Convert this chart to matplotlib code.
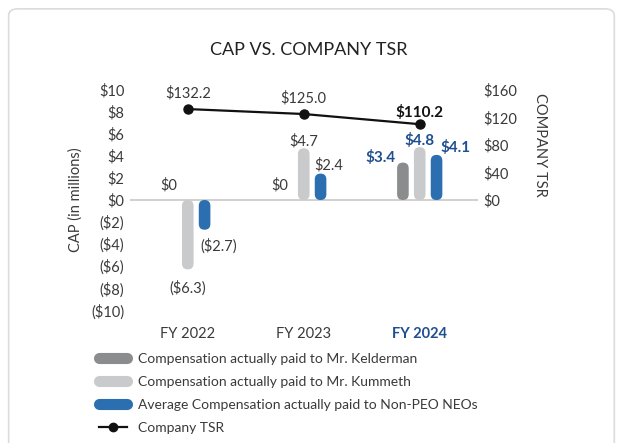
import matplotlib.pyplot as plt
import numpy as np
from matplotlib.patches import FancyBboxPatch
from matplotlib.lines import Line2D

plt.rcParams['font.family'] = ['Lato', 'DejaVu Sans']

years = ["FY 2022", "FY 2023", "FY 2024"]
kelderman = [0.0, 0.0, 3.4]
kummeth = [-6.3, 4.7, 4.8]
neo_avg = [-2.7, 2.4, 4.1]
tsr = [132.2, 125.0, 110.2]

c_kel = "#8b8c8e"
c_kum = "#c9cacc"
c_neo = "#2b6fb0"
c_blue_txt = "#1f4f8f"
c_txt = "#3a3a3a"

fig = plt.figure(figsize=(6.18, 4.43), dpi=100)

# card outline
card = FancyBboxPatch((0.014, -0.05), 0.98, 1.03, boxstyle="round,pad=0,rounding_size=0.015",
                      transform=fig.transFigure, fc="white", ec="#dcdcdc", lw=1.2, zorder=-5)
fig.patches.append(card)

ax = fig.add_axes([0.21, 0.30, 0.563, 0.497])
ax2 = ax.twinx()
ax.set_zorder(ax2.get_zorder() + 1)
ax.patch.set_visible(False)

x = np.arange(len(years))
w = 0.1
off = 0.145

def rounded_bars(xs, vals, color):
    bars = ax.bar(xs, vals, width=w, color=color)
    for b in bars:
        h = b.get_height()
        b.set_visible(False)
        if abs(h) < 1e-9:
            continue
        y0 = min(b.get_y(), b.get_y() + h)
        p = FancyBboxPatch((b.get_x(), y0), b.get_width(), abs(h),
                           boxstyle="round,pad=0,rounding_size=0.05", mutation_aspect=10.5,
                           fc=color, ec="none", zorder=2)
        ax.add_patch(p)

rounded_bars(x - off, kelderman, c_kel)
rounded_bars(x, kummeth, c_kum)
rounded_bars(x + off, neo_avg, c_neo)

ax.axhline(0, color="#c8c8c8", lw=1.2, zorder=1)
ax.set_xlim(-0.5, 2.5)
ax.set_ylim(-10, 10)
ax.set_yticks(np.arange(-10, 11, 2))
ax.set_yticklabels([f"${v}" if v >= 0 else f"(${-v})" for v in range(-10, 11, 2)])
ax.set_xticks(x)
ax.set_xticklabels(years)
ax.tick_params(length=0, labelsize=10.5, colors=c_txt, pad=4)
ax.tick_params(axis="x", pad=12)
ax.get_xticklabels()[2].set_color(c_blue_txt)
ax.get_xticklabels()[2].set_fontweight("bold")
for s in ax.spines.values():
    s.set_visible(False)
ax.set_ylabel("CAP (in millions)", fontsize=10.5, color=c_txt, labelpad=6)

# right axis for TSR
ax2.set_ylim(-160, 160)
ax2.set_yticks([0, 40, 80, 120, 160])
ax2.set_yticklabels([f"${v}" for v in [0, 40, 80, 120, 160]])
ax2.tick_params(length=0, labelsize=10.5, colors=c_txt, pad=4)
for s in ax2.spines.values():
    s.set_visible(False)
ax2.set_ylabel("COMPANY TSR", fontsize=10.5, color=c_txt, rotation=-90)
ax2.yaxis.set_label_coords(1.2, 0.75)

line_ax = ax.twinx()
line_ax.set_ylim(-160, 160)
line_ax.axis("off")
line_ax.set_zorder(ax.get_zorder() + 1)
line_ax.plot(x, tsr, color="#111111", lw=1.6, marker="o", ms=6.5, zorder=5)
for i, v in enumerate(tsr):
    bold = i == 2
    line_ax.annotate(f"${v:.1f}", (x[i], v), xytext=(0, 6 if not bold else 3), textcoords="offset points",
                     ha="center", va="bottom", fontsize=10.5 if not bold else 11,
                     fontweight="bold" if bold else "normal", color="#111111" if bold else c_txt)

def money(v):
    return f"${v:.1f}" if v > 0 else (f"(${-v:.1f})" if v < 0 else "$0")

lab = dict(fontsize=10.5, color=c_txt)
# FY2022
ax.text(0 - off - 0.02, 0.7, money(kelderman[0]), ha="center", va="bottom", **lab)
ax.text(0, kummeth[0] - 1.0, money(kummeth[0]), ha="center", va="top", **lab)
ax.text(0 + off - 0.04, neo_avg[0] - 0.8, money(neo_avg[0]), ha="left", va="top", **lab)
# FY2023
ax.text(1 - off - 0.06, 0.7, money(kelderman[1]), ha="center", va="bottom", **lab)
ax.text(1, kummeth[1] + 0.0, money(kummeth[1]), ha="center", va="bottom", **lab)
ax.text(1 + off - 0.05, neo_avg[1] + 0.1, money(neo_avg[1]), ha="left", va="bottom", **lab)
# FY2024
blab = dict(fontsize=11, color=c_blue_txt, fontweight="bold")
ax.text(2 - off - 0.06, kelderman[2] - 0.2, money(kelderman[2]), ha="right", va="bottom", **blab)
ax.text(2, kummeth[2] - 0.1, money(kummeth[2]), ha="center", va="bottom", **blab)
ax.text(2 + off + 0.03, neo_avg[2] + 0.0, money(neo_avg[2]), ha="left", va="bottom", **blab)

fig.text(0.5, 0.888, "CAP VS. COMPANY TSR", ha="center", va="center", fontsize=13, color="#222222")

handles = [
    Line2D([], [], color=c_kel, lw=8, solid_capstyle="round"),
    Line2D([], [], color=c_kum, lw=8, solid_capstyle="round"),
    Line2D([], [], color=c_neo, lw=8, solid_capstyle="round"),
    Line2D([], [], color="#111111", lw=1.6, marker="o", ms=6),
]
labels = [
    "Compensation actually paid to Mr. Kelderman",
    "Compensation actually paid to Mr. Kummeth",
    "Average Compensation actually paid to Non-PEO NEOs",
    "Company TSR",
]
fig.legend(handles, labels, loc="upper left", bbox_to_anchor=(0.16, 0.203), frameon=False,
           fontsize=10, handlelength=2.0, handletextpad=0.8, labelspacing=0.78,
           labelcolor=c_txt, borderaxespad=0, borderpad=0)

fig.savefig("out.png", dpi=100)
